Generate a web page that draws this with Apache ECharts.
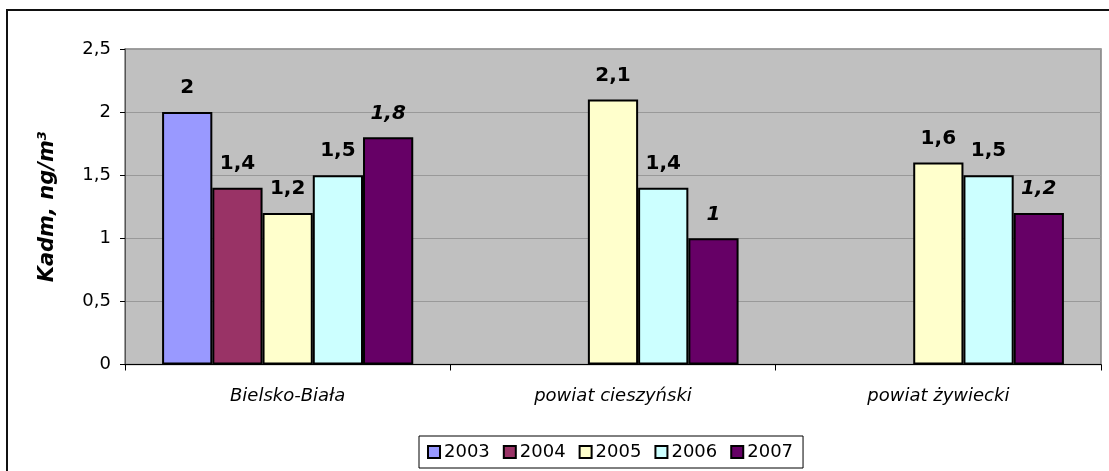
<!DOCTYPE html>
<html>
<head>
<meta charset="utf-8">
<script src="https://cdn.jsdelivr.net/npm/echarts@6/dist/echarts.min.js"></script>
<style>
  html, body { margin: 0; padding: 0; background: #fff; }
  #chart { width: 1109px; height: 471px; }
</style>
</head>
<body>
<div id="chart"></div>
<script>
// dane
const categories = ['Bielsko-Biała', 'powiat cieszyński', 'powiat żywiecki'];
const years = ['2003', '2004', '2005', '2006', '2007'];
const v2003 = [2, null, null];
const v2004 = [1.4, null, null];
const v2005 = [1.2, 2.1, 1.6];
const v2006 = [1.5, 1.4, 1.5];
const v2007 = [1.8, 1, 1.2];
const yTicks = [0, 0.5, 1, 1.5, 2, 2.5];

const seriesValues = [v2003, v2004, v2005, v2006, v2007];
const colors = ['#9999FF', '#993366', '#FFFFCC', '#CCFFFF', '#660066'];
const FONT = 'DejaVu Sans';

const comma = v => String(v).replace('.', ',');

const chart = echarts.init(document.getElementById('chart'));

const series = years.map((y, i) => ({
  name: y,
  type: 'bar',
  data: seriesValues[i],
  barGap: '0%',
  barCategoryGap: '22.8%',
  itemStyle: { color: colors[i], borderColor: '#000', borderWidth: 2 },
  label: {
    show: true,
    position: 'top',
    distance: 14,
    fontFamily: FONT,
    fontSize: 20,
    fontWeight: 'bold',
    fontStyle: i === 4 ? 'italic' : 'normal',
    color: '#000',
    formatter: p => comma(p.value)
  }
}));

chart.setOption({
  animation: false,
  textStyle: { fontFamily: FONT },
  graphic: [{
    type: 'rect',
    shape: { x: 7, y: 10, width: 1130, height: 500 },
    style: { fill: 'none', stroke: '#111', lineWidth: 2 },
    z: -10
  }],
  grid: {
    left: 125, right: 8, top: 49, bottom: 106.5,
    show: true,
    backgroundColor: '#C0C0C0',
    borderColor: '#808080',
    borderWidth: 1.5
  },
  legend: {
    data: years,
    left: 419,
    top: 436,
    padding: [7, 10, 7, 8],
    itemGap: 13,
    itemWidth: 12,
    itemHeight: 12,
    icon: 'rect',
    borderColor: '#000',
    borderWidth: 1,
    backgroundColor: '#fff',
    itemStyle: { borderColor: '#000', borderWidth: 2 },
    textStyle: { fontFamily: FONT, fontSize: 18, color: '#000', padding: [0, 0, 0, -1] }
  },
  xAxis: {
    type: 'category',
    data: categories,
    axisLine: { lineStyle: { color: '#000', width: 1 } },
    axisTick: { show: true, length: 6, lineStyle: { color: '#000' } },
    axisLabel: {
      margin: 23,
      fontFamily: FONT,
      fontSize: 18,
      fontStyle: 'italic',
      color: '#000'
    }
  },
  yAxis: {
    type: 'value',
    min: yTicks[0],
    max: yTicks[yTicks.length - 1],
    interval: 0.5,
    name: 'Kadm, ng/m{sup|3}',
    nameLocation: 'middle',
    nameRotate: 90,
    nameGap: 66,
    nameTextStyle: {
      fontFamily: FONT,
      fontSize: 21,
      fontWeight: 'bold',
      fontStyle: 'italic',
      color: '#000',
      rich: {
        sup: {
          fontFamily: FONT,
          fontSize: 13,
          fontWeight: 'bold',
          fontStyle: 'italic',
          color: '#000',
          verticalAlign: 'top',
          padding: [0, 0, 10, 0]
        }
      }
    },
    axisLine: { show: true, lineStyle: { color: '#555', width: 1 } },
    axisTick: { show: true, length: 5, lineStyle: { color: '#000' } },
    axisLabel: {
      margin: 14,
      fontFamily: FONT,
      fontSize: 18,
      color: '#000',
      formatter: v => comma(v)
    },
    splitLine: { lineStyle: { color: '#999', width: 1 } }
  },
  series: series
});
</script>
</body>
</html>
